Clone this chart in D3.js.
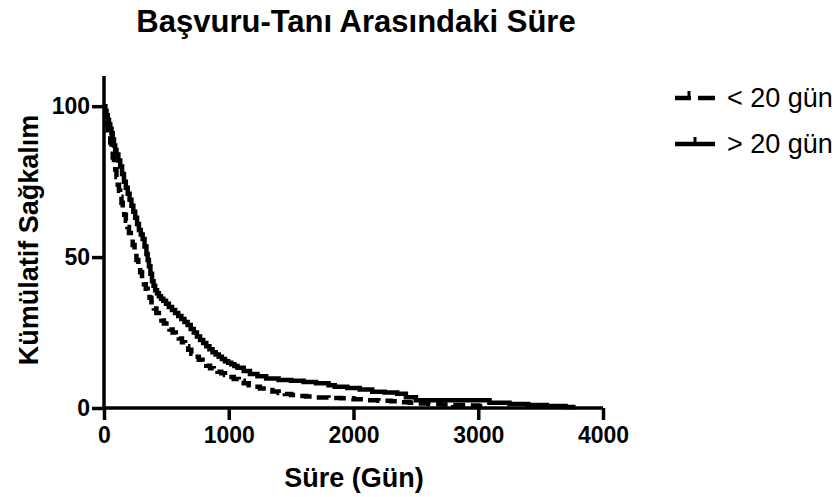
<!DOCTYPE html>
<html>
<head>
<meta charset="utf-8">
<script src="https://cdn.jsdelivr.net/npm/d3@7"></script>
<style>
  html, body { margin: 0; padding: 0; background: #fff; }
  svg { display: block; font-family: "Liberation Sans", Arial, Helvetica, sans-serif; }
</style>
</head>
<body>
<svg id="chart" width="840" height="497"></svg>
<script>
// Kaplan–Meier survival steps (time in days, cumulative survival %)
const shortTime = [0, 8, 15, 22, 30, 40, 50, 60, 70, 80, 90, 100, 110, 120, 130, 140, 150, 162, 175, 188, 200, 215, 230, 245, 260, 275, 290, 305, 320, 335, 350, 365, 380, 400, 420, 440, 460, 480, 500, 525, 550, 575, 600, 625, 650, 675, 700, 730, 760, 790, 820, 850, 880, 910, 940, 970, 1000, 1040, 1080, 1120, 1160, 1200, 1250, 1300, 1350, 1400, 1450, 1500, 1550, 1620, 1700, 1800, 1900, 2000, 2100, 2200, 2300, 2380, 2450, 2520, 2600, 2700, 2800, 2900, 3000, 3050];
const shortSurv = [100, 98, 96, 94, 92, 90, 88, 85.5, 83, 81, 79, 76.5, 74, 72, 70, 68, 66, 64, 62, 60, 58, 56, 54, 51.5, 49, 47, 45, 43, 41, 39.5, 38, 36.5, 35, 33, 31.5, 30, 29, 28, 27, 26, 25, 24, 23, 21.8, 20.5, 19.3, 18, 17, 16, 15, 14, 13.2, 12.5, 12, 11.5, 10.9, 10.3, 9.6, 9, 8.2, 7.5, 7, 6.5, 6, 5.5, 5, 4.6, 4.3, 4, 3.8, 3.5, 3.3, 3.2, 2.9, 2.6, 2.4, 2.2, 1.9, 1.7, 1.5, 1.3, 1.15, 1.0, 0.85, 0.7, 0.7];

const longTime = [0, 10, 20, 30, 40, 50, 60, 70, 80, 90, 100, 115, 130, 145, 160, 175, 190, 205, 220, 235, 250, 265, 280, 295, 310, 325, 340, 350, 360, 372, 385, 397, 410, 425, 440, 457, 475, 497, 520, 545, 570, 595, 620, 645, 670, 695, 720, 745, 770, 795, 820, 845, 870, 895, 920, 945, 970, 995, 1020, 1045, 1070, 1120, 1170, 1230, 1300, 1400, 1500, 1600, 1700, 1800, 1850, 1950, 2050, 2150, 2250, 2350, 2420, 2500, 3090, 3250, 3400, 3550, 3700, 3780];
const longSurv = [100, 98.5, 97, 95.5, 94, 92.5, 91, 89, 87, 85.5, 84, 82, 80, 77.5, 75, 73, 71, 69, 67, 65, 63, 61, 59, 57.5, 56, 53.5, 51, 49, 47, 44.5, 42, 40.5, 39, 38, 37, 36.2, 35.5, 34.5, 33.5, 32.5, 31.5, 30.5, 29.5, 28.5, 27.5, 26.2, 25, 23.7, 22.5, 21.5, 20.5, 19.5, 18.5, 17.7, 17, 16.2, 15.5, 15, 14.5, 13.9, 13.3, 12.3, 11.3, 10.5, 9.8, 9.3, 9, 8.6, 8.2, 7.5, 7, 6.6, 6.1, 5.4, 5.1, 4.7, 3.6, 2.6, 1.7, 1.3, 1.0, 0.7, 0.3, 0.3];

const xTicks = [0, 1000, 2000, 3000, 4000];
const yTicks = [0, 50, 100];
const seriesNames = ["< 20 gün", "> 20 gün"];

const svg = d3.select("#chart");
const x = d3.scaleLinear().domain([0, 4000]).range([104, 603]);
const y = d3.scaleLinear().domain([0, 110]).range([408, 76]);

// title
svg.append("text")
  .attr("x", 356).attr("y", 32)
  .attr("text-anchor", "middle")
  .attr("font-size", 31).attr("font-weight", "bold")
  .text("Başvuru-Tanı Arasındaki Süre");

// survival curves
const line = d3.line()
  .x(d => x(d[0])).y(d => y(d[1]))
  .curve(d3.curveStepAfter);

svg.append("path")
  .datum(d3.zip(shortTime, shortSurv))
  .attr("d", line)
  .attr("fill", "none").attr("stroke", "#000")
  .attr("stroke-width", 4.5).attr("stroke-dasharray", "12,6");

svg.append("path")
  .datum(d3.zip(longTime, longSurv))
  .attr("d", line)
  .attr("fill", "none").attr("stroke", "#000")
  .attr("stroke-width", 4.5);

// axes
const xAxis = svg.append("g")
  .attr("transform", `translate(0,${y(0)})`)
  .call(d3.axisBottom(x).tickValues(xTicks).tickFormat(d3.format("d")).tickSize(12).tickPadding(7));
const yAxis = svg.append("g")
  .attr("transform", `translate(${x(0)},0)`)
  .call(d3.axisLeft(y).tickValues(yTicks).tickSize(12).tickPadding(2));

[xAxis, yAxis].forEach(g => {
  g.select(".domain").attr("stroke", "#000").attr("stroke-width", 3.5)
    .attr("d", g === xAxis ? `M${x(0)},0H${x(4000)}` : `M0,${y(110)}V${y(0)}`);
  g.selectAll(".tick line").attr("stroke", "#000").attr("stroke-width", 3.5);
  g.selectAll(".tick text").attr("fill", "#000")
    .attr("font-size", 23).attr("font-weight", "bold")
    .attr("font-family", "Liberation Sans, Arial, sans-serif");
});

// axis titles
svg.append("text")
  .attr("x", 354).attr("y", 487)
  .attr("text-anchor", "middle")
  .attr("font-size", 27).attr("font-weight", "bold")
  .text("Süre (Gün)");

svg.append("text")
  .attr("transform", "translate(38,240) rotate(-90)")
  .attr("text-anchor", "middle")
  .attr("font-size", 27).attr("font-weight", "bold")
  .text("Kümülatif Sağkalım");

// legend
const legend = svg.append("g");
const rows = [98, 144];

// dashed entry with censor tick
legend.append("line").attr("x1", 675).attr("x2", 691).attr("y1", rows[0]).attr("y2", rows[0])
  .attr("stroke", "#000").attr("stroke-width", 4.5);
legend.append("line").attr("x1", 689).attr("x2", 689).attr("y1", rows[0] - 7).attr("y2", rows[0])
  .attr("stroke", "#000").attr("stroke-width", 3);
legend.append("line").attr("x1", 698).attr("x2", 715).attr("y1", rows[0]).attr("y2", rows[0])
  .attr("stroke", "#000").attr("stroke-width", 4.5);

// solid entry with censor tick
legend.append("line").attr("x1", 675).attr("x2", 715).attr("y1", rows[1]).attr("y2", rows[1])
  .attr("stroke", "#000").attr("stroke-width", 4.5);
legend.append("line").attr("x1", 695).attr("x2", 695).attr("y1", rows[1] - 7).attr("y2", rows[1])
  .attr("stroke", "#000").attr("stroke-width", 3);

legend.selectAll("text.lbl")
  .data(seriesNames)
  .join("text")
  .attr("class", "lbl")
  .attr("x", 727)
  .attr("y", (d, i) => rows[i] + 9)
  .attr("font-size", 27)
  .text(d => d);
</script>
</body>
</html>
